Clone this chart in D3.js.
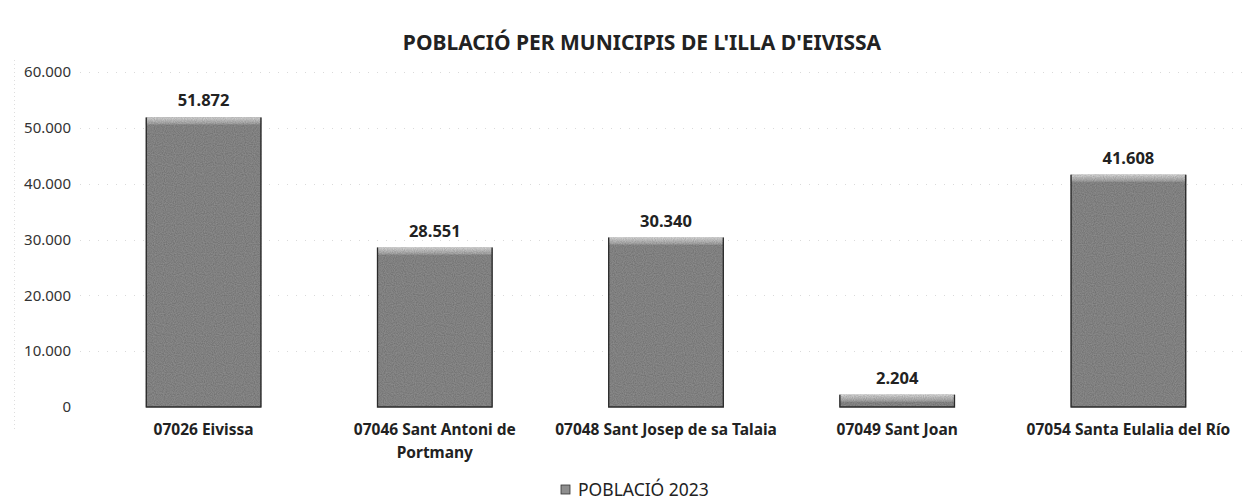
<!DOCTYPE html>
<html>
<head>
<meta charset="utf-8">
<script src="https://cdn.jsdelivr.net/npm/d3@7"></script>
<style>
  html, body { margin: 0; padding: 0; background: #fff; }
  svg { display: block; font-family: "Noto Sans", "Open Sans", sans-serif; }
</style>
</head>
<body>
<svg id="chart" width="1254" height="502"></svg>
<script>
// Population per municipality, Ibiza, 2023
const categories = [
  ["07026 Eivissa"],
  ["07046 Sant Antoni de", "Portmany"],
  ["07048 Sant Josep de sa Talaia"],
  ["07049 Sant Joan"],
  ["07054 Santa Eulalia del Río"]
];
const values = [51872, 28551, 30340, 2204, 41608];
const yTicks = [0, 10000, 20000, 30000, 40000, 50000, 60000];
const title = "POBLACIÓ PER MUNICIPIS DE L'ILLA D'EIVISSA";
const seriesName = "POBLACIÓ 2023";

const svg = d3.select("#chart");

const fmt = v => d3.format(",")(v).replace(/,/g, ".");

const x = d3.scaleBand()
  .domain(d3.range(values.length))
  .range([88, 1244])
  .paddingInner(0.5)
  .paddingOuter(0.25);

const y = d3.scaleLinear().domain([0, 60000]).range([407, 72]);

// grain for the bar surfaces
const defs = svg.append("defs");
const f = defs.append("filter").attr("id", "grain").attr("x", 0).attr("y", 0).attr("width", 1).attr("height", 1);
f.append("feTurbulence").attr("type", "fractalNoise").attr("baseFrequency", 0.9).attr("numOctaves", 1).attr("seed", 3).attr("result", "noise");
f.append("feColorMatrix").attr("in", "noise").attr("type", "matrix")
  .attr("values", "0 0 0 0 0  0 0 0 0 0  0 0 0 0 0  0 0 0 0.6 -0.1").attr("result", "dots");
f.append("feComposite").attr("in", "dots").attr("in2", "SourceGraphic").attr("operator", "in").attr("result", "dotsIn");
f.append("feMerge").selectAll("feMergeNode").data(["SourceGraphic", "dotsIn"]).join("feMergeNode").attr("in", d => d);

const hl = defs.append("linearGradient").attr("id", "topHl").attr("x1", 0).attr("y1", 0).attr("x2", 0).attr("y2", 1);
hl.append("stop").attr("offset", "0%").attr("stop-color", "#dedede");
hl.append("stop").attr("offset", "100%").attr("stop-color", "#a4a4a4");

// gridlines
svg.append("g").selectAll("line").data(yTicks.slice(1)).join("line")
  .attr("x1", 80).attr("x2", 1244)
  .attr("y1", d => Math.round(y(d)) + 0.5).attr("y2", d => Math.round(y(d)) + 0.5)
  .attr("stroke", "#dadada").attr("stroke-width", 1).attr("stroke-dasharray", "1,8");

// faint frame edge on the left
svg.append("line").attr("x1", 14.5).attr("x2", 14.5).attr("y1", 60).attr("y2", 430)
  .attr("stroke", "#dddddd").attr("stroke-dasharray", "1,3");

// y axis labels
const yAxis = d3.axisLeft(y).tickValues(yTicks).tickFormat(fmt).tickSize(0).tickPadding(0);
const gy = svg.append("g").attr("transform", "translate(71,0)").call(yAxis);
gy.select(".domain").remove();
gy.selectAll("text").attr("font-size", 15).attr("fill", "#333").attr("font-family", "Noto Sans, sans-serif");

// bars
const bars = svg.append("g").selectAll("g").data(values).join("g");
bars.append("rect")
  .attr("x", (d, i) => x(i)).attr("width", x.bandwidth())
  .attr("y", d => y(d)).attr("height", d => y(0) - y(d))
  .attr("fill", "#8e8e8e").attr("filter", "url(#grain)");
bars.append("rect")
  .attr("x", (d, i) => x(i)).attr("width", x.bandwidth())
  .attr("y", d => y(d)).attr("height", d => Math.min(7, y(0) - y(d)))
  .attr("fill", "url(#topHl)").attr("filter", "url(#grain)");
bars.append("path")
  .attr("d", (d, i) => {
    const x0 = x(i) + 0.5, x1 = x(i) + x.bandwidth() - 0.5;
    return `M${x0},${y(d)}V${y(0)}H${x1}V${y(d)}`;
  })
  .attr("fill", "none").attr("stroke", "#2a2a2a").attr("stroke-width", 1.3);

// value labels
svg.append("g").selectAll("text").data(values).join("text")
  .attr("x", (d, i) => x(i) + x.bandwidth() / 2)
  .attr("y", d => y(d) - 11)
  .attr("text-anchor", "middle")
  .attr("font-size", 16.5).attr("font-weight", "bold").attr("fill", "#222")
  .text(fmt);

// category labels
const cat = svg.append("g").selectAll("text").data(categories).join("text")
  .attr("text-anchor", "middle")
  .attr("font-size", 15.5).attr("font-weight", "bold").attr("fill", "#222");
cat.selectAll("tspan").data((d, i) => d.map(t => ({ t, i }))).join("tspan")
  .attr("x", d => x(d.i) + x.bandwidth() / 2)
  .attr("y", (d, j) => 435 + j * 23)
  .text(d => d.t);

// title
svg.append("text").attr("x", 642).attr("y", 50).attr("text-anchor", "middle")
  .attr("font-size", 21).attr("font-weight", "bold").attr("fill", "#222").text(title);

// legend
const lg = svg.append("g");
lg.append("rect").attr("x", 561).attr("y", 485).attr("width", 9).attr("height", 9)
  .attr("fill", "#8e8e8e").attr("stroke", "#333").attr("stroke-width", 0.8);
lg.append("text").attr("x", 578).attr("y", 496).attr("font-size", 17.5).attr("fill", "#222").text(seriesName);
</script>
</body>
</html>
